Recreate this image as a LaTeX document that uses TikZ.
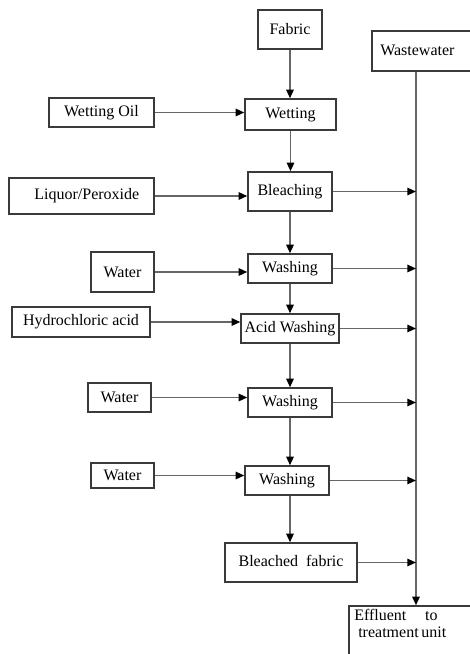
\documentclass[tikz,border=0pt]{standalone}
\usepackage{fontspec}
\setmainfont{Liberation Serif}
\usetikzlibrary{arrows.meta}
\definecolor{edge}{HTML}{3A3A3A}
\definecolor{wire}{HTML}{666666}
\tikzset{
  box/.style={draw=edge, line width=1.1pt, inner sep=0pt, font=\fontsize{12}{14}\selectfont, text=black},
  txt/.style={inner sep=0pt, font=\fontsize{12}{14}\selectfont, text=black},
  flow/.style={draw=wire, line width=1.25pt, -{Triangle[length=6.5pt,width=5.6pt,color=black]}},
  plain/.style={draw=wire, line width=1.25pt}
}
\newcommand\bx[6]{\node[box,minimum width={(#4-#2)*0.75pt},minimum height={(#5-#3)*0.75pt}] (#1) at ({(#2+#4)/2},{(#3+#5)/2}) {#6};}
\begin{document}
\begin{tikzpicture}[x=0.75pt,y=-0.75pt]
\useasboundingbox (0,0) rectangle (470,654);
\clip (0,0) rectangle (470,654);
% process column
\bx{fab}{258}{10}{322}{49}{Fabric}
\bx{wet}{245}{99}{336}{130}{Wetting}
\bx{ble}{248}{172}{332}{211}{Bleaching}
\bx{wa1}{248}{254}{332}{283}{Washing}
\bx{aci}{241}{314}{339}{343}{Acid Washing}
\bx{wa2}{248}{388}{332}{417}{Washing}
\bx{wa3}{245}{466}{329}{495}{Washing}
\bx{bf}{225}{543}{357}{582}{\raisebox{3pt}{Bleached\ \ fabric}}
% inputs
\bx{oil}{49}{98}{154}{127}{Wetting Oil}
\bx{liq}{9}{178}{154}{214}{\hspace{8pt}Liquor/Peroxide}
\bx{w1}{91}{252}{154}{292}{Water}
\bx{hcl}{12}{307}{150}{337}{Hydrochloric acid}
\bx{w2}{88}{383}{151}{412}{Water}
\bx{w3}{91}{463}{154}{488}{Water}
% wastewater side
\bx{ww}{372}{31}{480}{71}{}
\node[txt, anchor=west] (wwt) at (380,50) {Wastewater};
\bx{eff}{349}{606}{483}{680}{}
\node[txt, anchor=north west, align=left] (efft) at (354,609) {Effluent\hspace{14pt}to\\[-1pt]\hspace{3pt}treatment\,unit};
% main flow
\draw[flow] (fab.south) -- (fab.south |- wet.north);
\draw[flow] (wet.south) -- (wet.south |- ble.north);
\draw[flow] (ble.south) -- (ble.south |- wa1.north);
\draw[flow] (wa1.south) -- (wa1.south |- aci.north);
\draw[flow] (aci.south) -- (aci.south |- wa2.north);
\draw[flow] (wa2.south) -- (wa2.south |- wa3.north);
\draw[flow] ([xshift=2.25pt]wa3.south) -- ([xshift=2.25pt]wa3.south |- bf.north);
% inputs
\draw[flow] (oil.east) -- (oil.east -| wet.west);
\draw[flow] (liq.east) -- (liq.east -| ble.west);
\draw[flow] (w1.east) -- (w1.east -| wa1.west);
\draw[flow] (hcl.east) -- (hcl.east -| aci.west);
\draw[flow] (w2.east) -- (w2.east -| wa2.west);
\draw[flow] (w3.east) -- (w3.east -| wa3.west);
% wastewater collection
\draw[flow] (ww.south -| eff.north) -- (eff.north);
\draw[flow] (ble.east) -- (ble.east -| eff.north);
\draw[flow] (wa1.east) -- (wa1.east -| eff.north);
\draw[flow] (aci.east) -- (aci.east -| eff.north);
\draw[flow] (wa2.east) -- (wa2.east -| eff.north);
\draw[flow] (wa3.east) -- (wa3.east -| eff.north);
\draw[flow] (bf.east) -- (bf.east -| eff.north);
\end{tikzpicture}
\end{document}
